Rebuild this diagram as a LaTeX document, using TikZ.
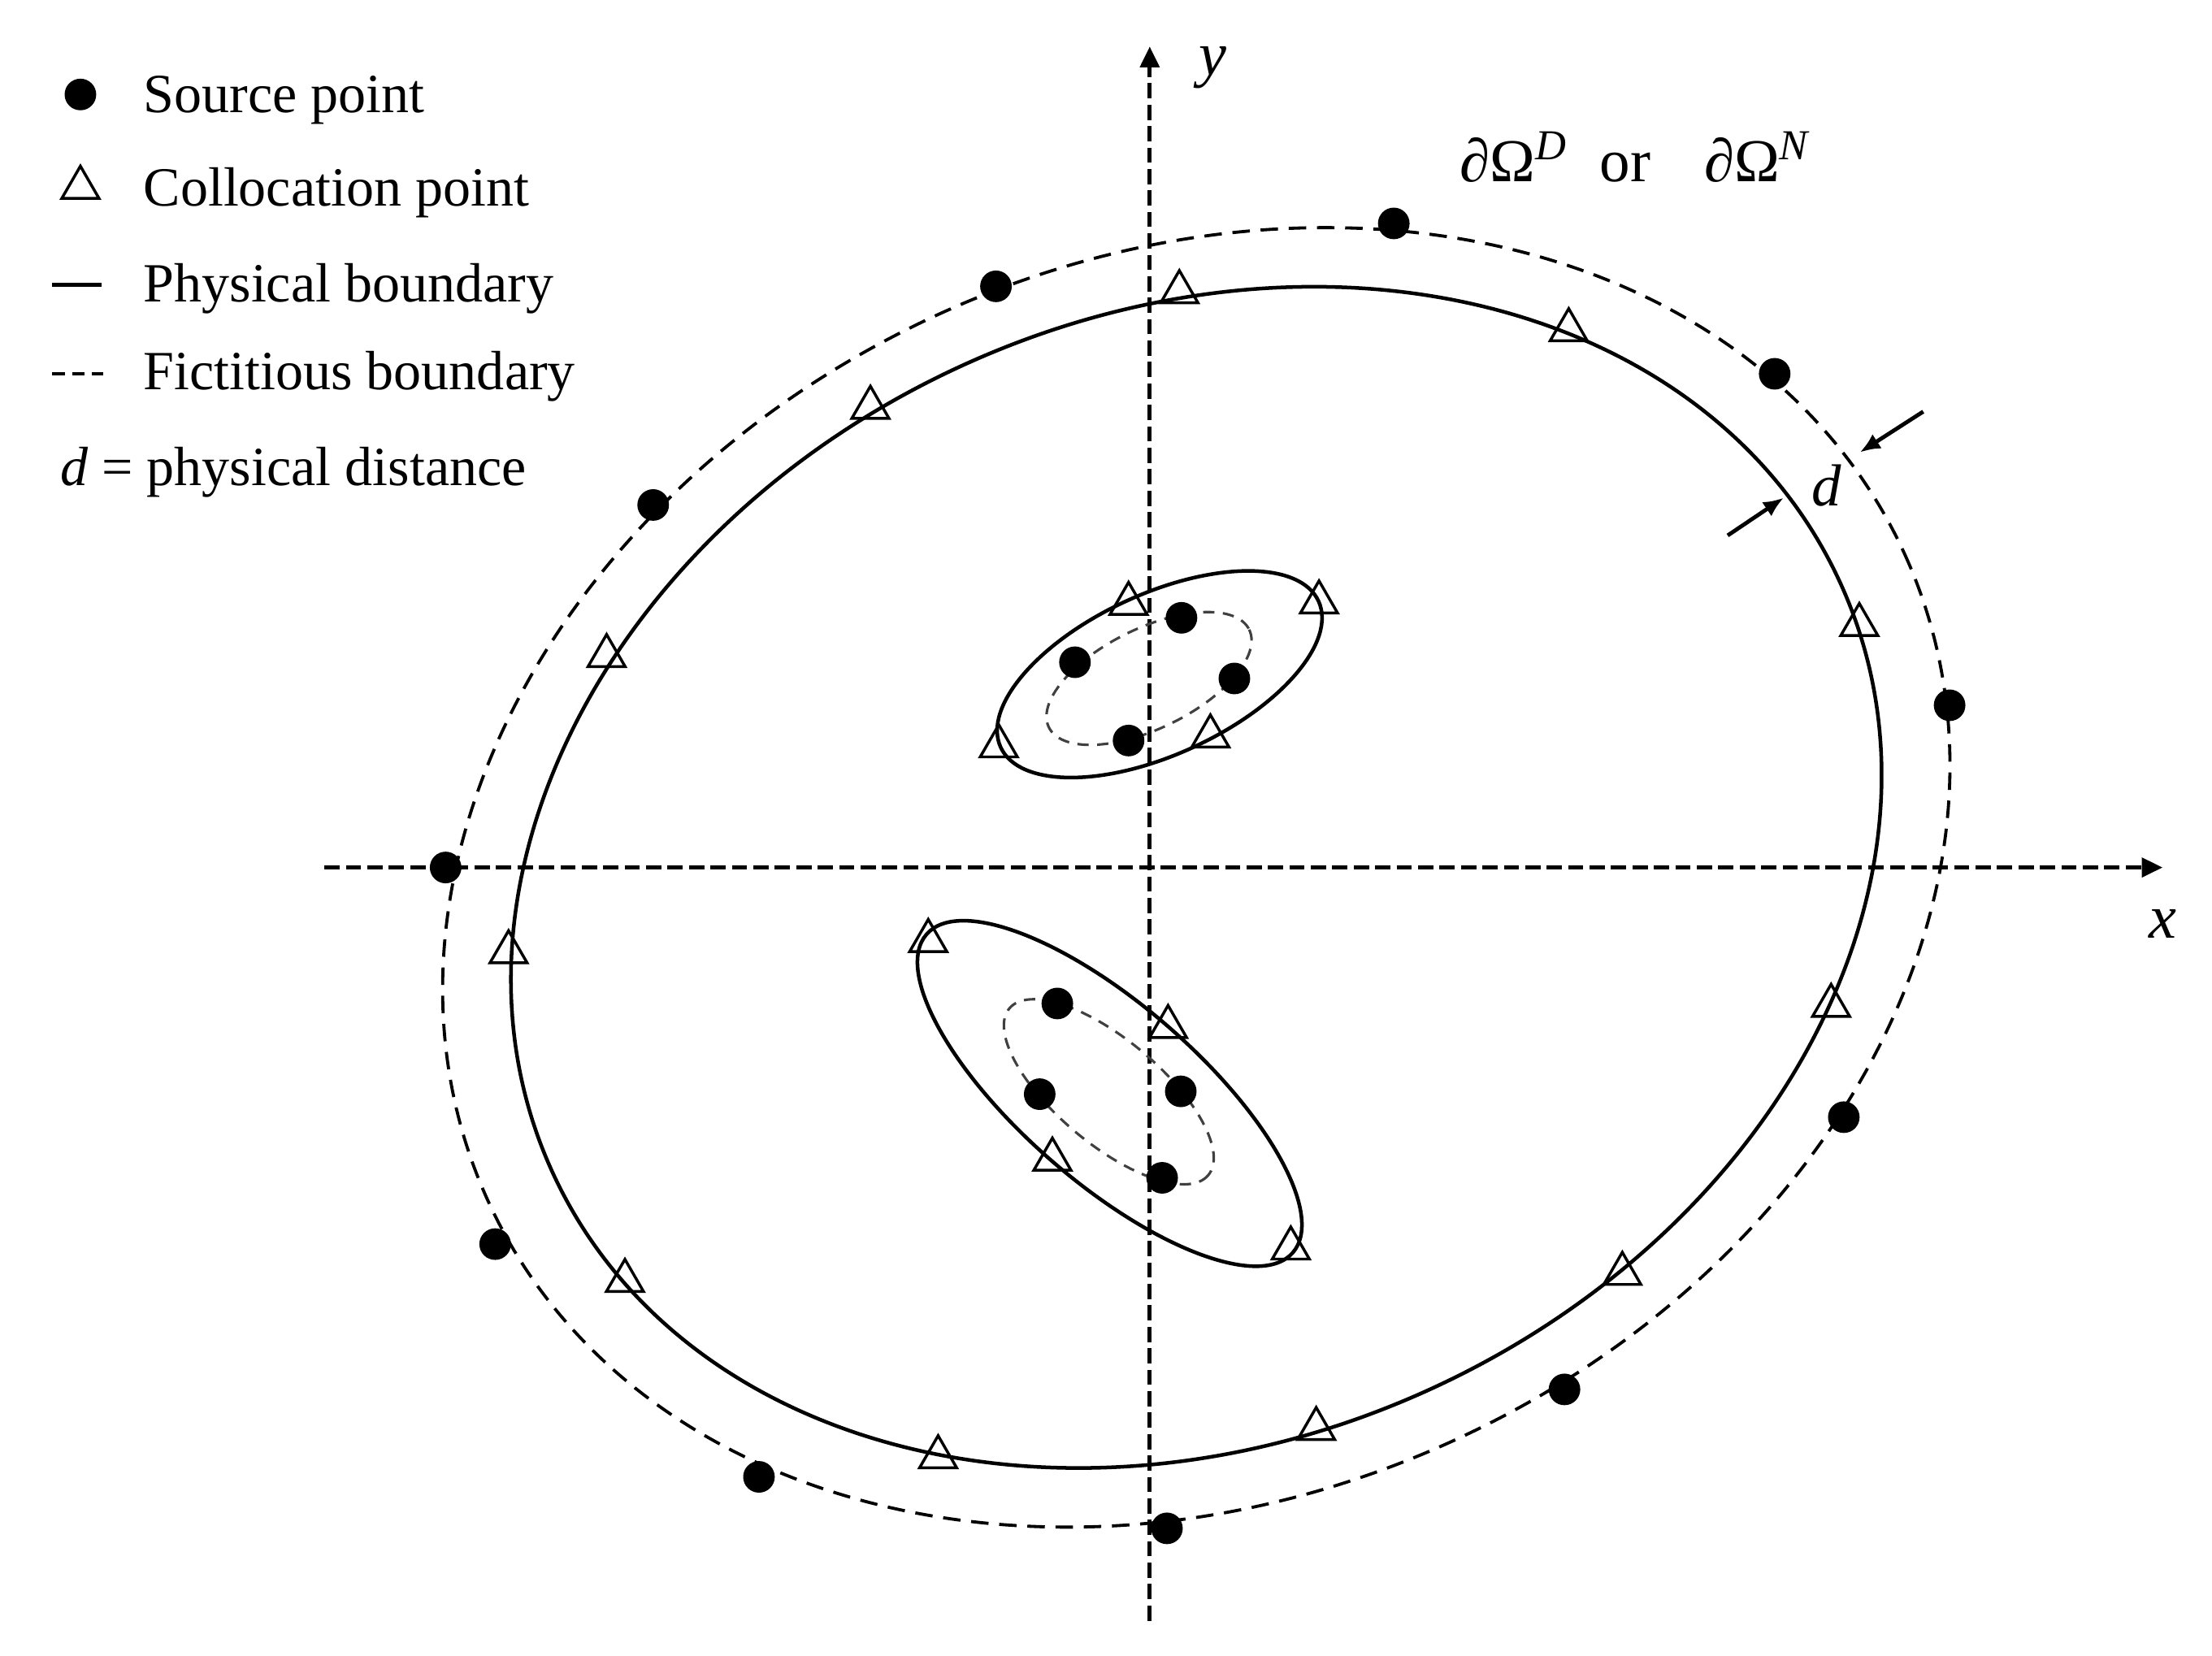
\documentclass[tikz,border=0pt]{standalone}
\usepackage{fontspec}
\setmainfont{Liberation Serif}
\usetikzlibrary{arrows.meta,shapes.geometric}

\begin{document}
\begin{tikzpicture}[x=0.25pt,y=0.25pt,yscale=-1,xscale=1,
  srcpt/.style={circle,fill=black,inner sep=0pt,minimum size=5.6pt},
  colpt/.style={regular polygon,regular polygon sides=3,draw=black,line width=0.5pt,inner sep=0pt,minimum size=7.6pt},
  physbd/.style={line width=0.65pt},
  fictbd/.style={line width=0.55pt,dash pattern=on 3.1pt off 1.9pt},
  innerfict/.style={line width=0.45pt,black!75,dash pattern=on 2pt off 1.5pt},
  axisline/.style={line width=0.7pt,dash pattern=on 2.7pt off 1.1pt,-{Triangle[length=3.7pt,width=3.4pt]}},
  distarrow/.style={line width=0.7pt,-{Latex[length=3.6pt,width=3pt]}},
  lbl/.style={inner sep=0pt,font=\fontsize{9.8}{12}\selectfont}]
        \useasboundingbox (0,0) rectangle (1568,1174);
        %Axes
        \coordinate (xstart) at (230,615);
        \coordinate (xend) at (1533,615);
        \coordinate (ystart) at (815,1149);
        \coordinate (yend) at (815,33);
        \draw[axisline] (xstart) -- (xend);
        \draw[axisline] (ystart) -- (yend);
        % Text Node
        \node[font=\fontsize{11}{13}\selectfont\itshape] (xlabel) at (1533,655) {x};
        % Text Node
        \node[font=\fontsize{11}{13}\selectfont\itshape] (ylabel) at (860,48) {y};
        %Shape: Ellipse, physical boundary
        \draw[physbd,rotate around={-24.6:(848,622)}] (848,622) ellipse [x radius=502,y radius=399];
        %Shape: Ellipse, fictitious boundary
        \draw[fictbd,rotate around={-24.6:(848,622)}] (848,622) ellipse [x radius=552,y radius=439];
        %Shape: Ellipse, upper hole
        \draw[physbd,rotate around={-24.7:(822,478)}] (822,478) ellipse [x radius=124,y radius=57];
        \draw[innerfict,rotate around={-26:(814.5,481)}] (814.5,481) ellipse [x radius=79,y radius=35.5];
        %Shape: Ellipse, lower hole
        \draw[physbd,rotate around={41:(786.6,775.2)}] (786.6,775.2) ellipse [x radius=172,y radius=63];
        \draw[innerfict,rotate around={40:(786,774)}] (786,774) ellipse [x radius=92,y radius=37];
        %Source points, outer
        \node[srcpt] (src1) at (988,158.4) {};
        \node[srcpt] (src2) at (706,203) {};
        \node[srcpt] (src3) at (1258,265) {};
        \node[srcpt] (src4) at (463,358) {};
        \node[srcpt] (src5) at (1382,500) {};
        \node[srcpt] (src6) at (315.9,615) {};
        \node[srcpt] (src7) at (1307,792) {};
        \node[srcpt] (src8) at (351,882) {};
        \node[srcpt] (src9) at (1109,985) {};
        \node[srcpt] (src10) at (538,1047) {};
        \node[srcpt] (src11) at (827.2,1083.5) {};
        %Source points, holes
        \node[srcpt] (srcu1) at (762,469.5) {};
        \node[srcpt] (srcu2) at (837.5,438) {};
        \node[srcpt] (srcu3) at (875,481) {};
        \node[srcpt] (srcu4) at (800,525) {};
        \node[srcpt] (srcl1) at (749.5,711.4) {};
        \node[srcpt] (srcl2) at (737,775.7) {};
        \node[srcpt] (srcl3) at (837,773.7) {};
        \node[srcpt] (srcl4) at (823.8,835) {};
        %Collocation points, outer
        \node[colpt] (col1) at (836,207) {};
        \node[colpt] (col2) at (1112,234) {};
        \node[colpt] (col3) at (617,289) {};
        \node[colpt] (col4) at (1318,443) {};
        \node[colpt] (col5) at (430,465) {};
        \node[colpt] (col6) at (360.5,675) {};
        \node[colpt] (col7) at (1298,713) {};
        \node[colpt] (col8) at (443,908) {};
        \node[colpt] (col9) at (1150,903) {};
        \node[colpt] (col10) at (665,1033) {};
        \node[colpt] (col11) at (933,1013) {};
        %Collocation points, holes
        \node[colpt] (colu1) at (800,428) {};
        \node[colpt] (colu2) at (935,427) {};
        \node[colpt] (colu3) at (708,529) {};
        \node[colpt] (colu4) at (858,522) {};
        \node[colpt] (coll1) at (658,667) {};
        \node[colpt] (coll2) at (828,728) {};
        \node[colpt] (coll3) at (746,822) {};
        \node[colpt] (coll4) at (915,885) {};
        %Distance arrows
        \coordinate (dtailA) at (1363.3,291.8);
        \coordinate (dtipA) at (1318.4,320.7);
        \coordinate (dtailB) at (1224.7,379.6);
        \coordinate (dtipB) at (1264.4,352.9);
        \draw[distarrow] (dtailA) -- (dtipA);
        \draw[distarrow] (dtailB) -- (dtipB);
        % Text Node
        \node[font=\fontsize{10.5}{12}\selectfont\itshape] (dlabel) at (1295,344) {d};
        % Text Node
        \node[anchor=base west,inner sep=0pt,font=\fontsize{10.8}{13}\selectfont] (bdlabel) at (1034,129) {∂Ω\textsuperscript{\textit{D}}\hspace{5.5pt}or\hspace{9.5pt}∂Ω\textsuperscript{\textit{N}}};
        %Legend
        \node[srcpt] (lgsrc) at (57,67) {};
        \node[lbl,anchor=base west] (lgsrctxt) at (101,80) {Source point};
        \node[colpt] (lgcol) at (57,133) {};
        \node[lbl,anchor=base west] (lgcoltxt) at (101,146) {Collocation point};
        \coordinate (lgphysA) at (37,202);
        \coordinate (lgphysB) at (72,202);
        \draw[line width=0.8pt] (lgphysA) -- (lgphysB);
        \node[lbl,anchor=base west] (lgphystxt) at (101,214) {Physical boundary};
        \coordinate (lgfictA) at (37,265);
        \coordinate (lgfictB) at (73,265);
        \draw[line width=0.6pt,dash pattern=on 2.2pt off 1.3pt] (lgfictA) -- (lgfictB);
        \node[lbl,anchor=base west] (lgficttxt) at (101,276) {Fictitious boundary};
        \node[lbl,anchor=base west] (lgdist) at (42,344) {\textit{d} = physical distance};
\end{tikzpicture}
\end{document}
